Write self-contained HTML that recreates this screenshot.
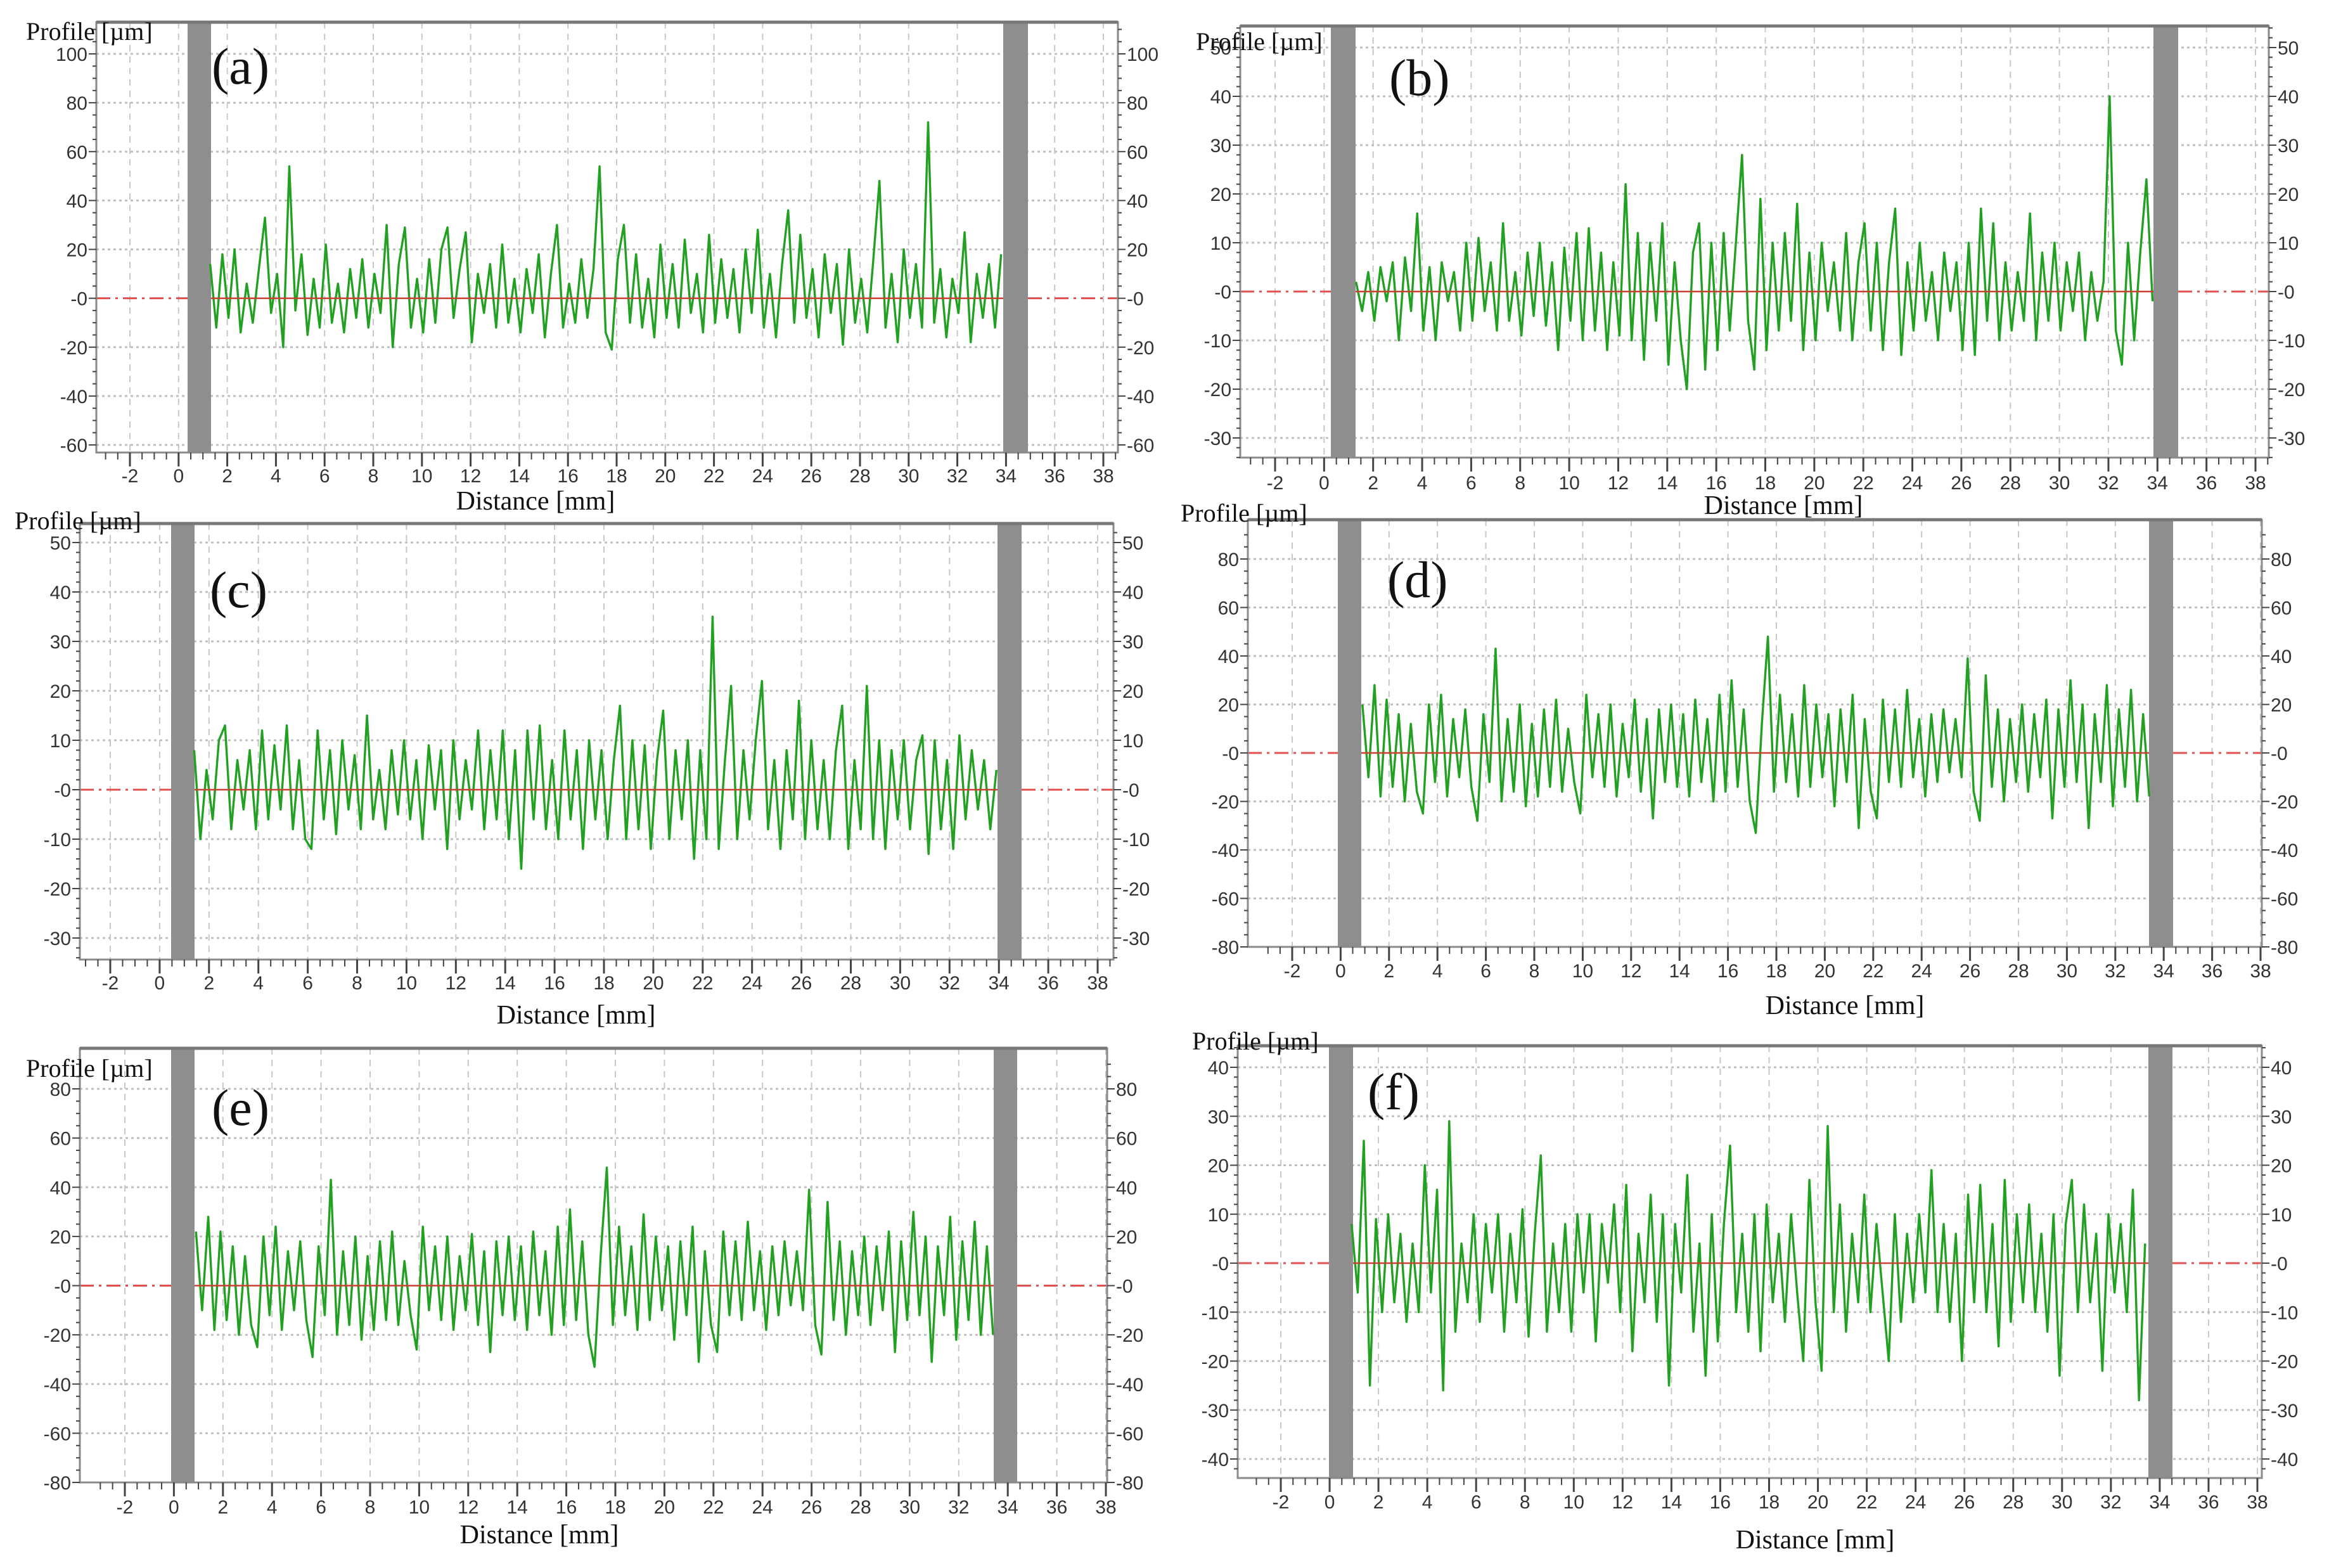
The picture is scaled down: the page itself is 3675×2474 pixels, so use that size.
<!DOCTYPE html>
<html><head><meta charset="utf-8"><style>
html,body{margin:0;padding:0;background:#fff;}
svg{display:block;}
.tick{font-family:"Liberation Sans Narrow","Liberation Sans",sans-serif;font-size:30px;fill:#333;}
.ser{font-family:"Liberation Serif",serif;fill:#111;}
</style></head><body>
<svg id="fig" width="3675" height="2474" viewBox="0 0 3675 2474" xmlns="http://www.w3.org/2000/svg">
<rect width="3675" height="2474" fill="#fff"/>
</svg>
<script>
// ---- data (profile heights in µm, evenly spaced samples between start/end mm) ----
const profileA = [14,-12,18,-8,20,-14,6,-10,12,33,-6,10,-20,54,-5,18,-15,8,-12,22,-10,6,-14,12,-8,16,-12,10,-6,30,-20,14,29,-12,8,-14,16,-10,20,29,-8,12,27,-18,10,-6,14,-12,22,-10,8,-14,12,-6,18,-16,10,30,-12,6,-10,16,-8,12,54,-14,-21,16,30,-10,18,-12,8,-16,22,-8,14,-12,24,-6,10,-14,26,-10,16,-8,12,-14,20,-6,28,-12,10,-16,14,36,-10,26,-8,12,-16,18,-6,14,-19,20,-10,8,-14,16,48,-12,10,-18,20,-8,14,-12,72,-10,12,-16,8,-6,27,-18,10,-8,14,-12,18];
const profileB = [2,-4,4,-6,5,-2,6,-10,7,-4,16,-8,5,-10,6,-2,4,-8,10,-6,11,-4,6,-8,14,-6,4,-9,8,-5,10,-7,6,-12,9,-6,12,-10,13,-8,8,-12,6,-9,22,-10,12,-14,10,-6,14,-15,6,-10,-20,8,14,-16,10,-12,12,-8,10,28,-6,-16,19,-12,10,-8,12,-6,18,-12,8,-10,10,-4,6,-8,12,-10,6,14,-8,10,-12,6,17,-13,6,-8,10,-6,4,-10,8,-4,6,-12,10,-13,17,-6,14,-10,6,-8,4,-6,16,-10,8,-6,10,-8,6,-4,8,-10,4,-6,2,40,-8,-15,10,-10,8,23,-2];
const profileC = [8,-10,4,-6,10,13,-8,6,-4,8,-8,12,-6,9,-4,13,-8,6,-10,-12,12,-6,8,-9,10,-4,7,-8,15,-6,4,-8,8,-5,10,-6,6,-10,9,-4,8,-12,10,-6,6,-4,12,-8,8,-6,12,-10,8,-16,12,-6,13,-8,6,-10,12,-6,8,-12,10,-6,8,-10,6,17,-10,10,-8,9,-12,6,16,-10,8,-6,10,-14,8,-10,35,-12,6,21,-10,8,-6,10,22,-8,6,-12,8,-6,18,-10,10,-8,6,-10,8,17,-12,6,-8,21,-10,10,-12,8,-6,10,-8,6,11,-13,10,-8,6,-12,11,-6,8,-4,6,-8,4];
const profileD = [20,-10,28,-18,22,-14,16,-20,12,-16,-25,20,-12,24,-18,14,-10,18,-14,-28,16,-12,43,-20,14,-16,20,-22,12,-18,18,-14,22,-16,10,-12,-25,24,-10,16,-14,20,-18,12,-10,22,-16,14,-27,18,-12,20,-14,16,-18,22,-12,14,-20,24,-16,30,-14,18,-20,-33,12,48,-16,24,-12,16,-18,28,-14,20,-10,16,-22,18,-12,24,-31,14,-16,-27,22,-12,18,-14,26,-10,14,-18,16,-12,18,-8,14,-10,39,-16,-28,32,-14,18,-20,14,-12,20,-16,16,-10,22,-27,18,-14,30,-12,20,-31,16,-12,28,-22,18,-14,26,-20,16,-18];
const profileE = [22,-10,28,-18,22,-14,16,-20,12,-16,-25,20,-12,24,-18,14,-10,18,-14,-29,16,-12,43,-20,14,-16,20,-22,12,-18,18,-14,22,-16,10,-12,-26,24,-10,16,-14,20,-18,12,-10,21,-16,14,-27,18,-12,20,-14,16,-18,22,-12,14,-20,24,-16,31,-14,18,-20,-33,12,48,-16,24,-12,16,-18,29,-14,20,-10,16,-22,18,-12,24,-31,14,-16,-27,22,-12,18,-14,26,-10,14,-18,16,-12,18,-8,14,-10,39,-16,-28,34,-14,18,-20,14,-12,20,-16,16,-10,22,-27,18,-14,30,-12,20,-31,16,-12,28,-22,18,-14,26,-20,16,-20];
const profileF = [8,-6,25,-25,9,-10,10,-8,6,-12,4,-10,20,-6,15,-26,29,-14,4,-8,10,-12,8,-6,10,-14,6,-8,11,-15,6,22,-14,4,-10,8,-14,10,-6,10,-16,8,-4,12,-10,16,-18,6,-8,14,-12,10,-25,8,-6,18,-14,4,-23,10,-16,8,24,-10,6,-14,10,-18,12,-8,6,-12,10,-6,-20,17,-8,-22,28,-10,12,-14,6,-8,14,-10,8,-6,-20,10,-12,6,-8,10,-6,19,-10,8,-12,6,-20,14,-8,16,-10,8,-17,17,-12,10,-8,12,-10,6,-14,10,-23,8,17,-10,12,-8,6,-22,10,-6,8,-10,15,-28,4];
const xTickLabels = [-2,0,2,4,6,8,10,12,14,16,18,20,22,24,26,28,30,32,34,36,38];
const yTicksA = [-60,-40,-20,0,20,40,60,80,100];
const yTicksB = [-30,-20,-10,0,10,20,30,40,50];
const yTicksD = [-80,-60,-40,-20,0,20,40,60,80];
const yTicksF = [-40,-30,-20,-10,0,10,20,30,40];
const dataRanges = [[1.3,33.8],[1.3,33.8],[1.4,33.9],[0.9,33.4],[0.9,33.4],[0.9,33.4]];

// ---- layout (pixels) ----
const panels = [
 {id:'a',data:profileA,yt:yTicksA,minor:5,L:152,R:1764,T:35,B:714,yv1:100,yp1:85,yv2:-60,yp2:702,xp1:205,xp2:1741,bands:[[296,333],[1583,1622]],px:41,py:63,tly:761,dx:845,dy:804,lx:334,ly:132},
 {id:'b',data:profileB,yt:yTicksB,minor:2,L:1957,R:3580,T:41,B:722,yv1:50,yp1:75,yv2:-30,yp2:691,xp1:2012,xp2:3559,bands:[[2100,2139],[3398,3437]],px:1887,py:79,tly:772,dx:2814,dy:811,lx:2192,ly:150},
 {id:'c',data:profileC,yt:yTicksB,minor:2,L:126,R:1757,T:826,B:1514,yv1:50,yp1:856,yv2:-30,yp2:1480,xp1:174,xp2:1732,bands:[[270,307],[1574,1612]],px:23,py:835,tly:1561,dx:909,dy:1615,lx:331,ly:958},
 {id:'d',data:profileD,yt:yTicksD,minor:5,L:1969,R:3569,T:820,B:1494,yv1:80,yp1:882,yv2:-80,yp2:1494,xp1:2039,xp2:3567,bands:[[2111,2148],[3391,3429]],px:1863,py:823,tly:1542,dx:2911,dy:1600,lx:2189,ly:942},
 {id:'e',data:profileE,yt:yTicksD,minor:5,L:126,R:1747,T:1654,B:2339,yv1:80,yp1:1718,yv2:-80,yp2:2339,xp1:197,xp2:1745,bands:[[270,307],[1568,1605]],px:41,py:1699,tly:2388,dx:851,dy:2435,lx:334,ly:1775},
 {id:'f',data:profileF,yt:yTicksF,minor:2,L:1953,R:3569,T:1650,B:2332,yv1:40,yp1:1684,yv2:-40,yp2:2302,xp1:2021,xp2:3562,bands:[[2097,2135],[3390,3428]],px:1881,py:1656,tly:2380,dx:2864,dy:2443,lx:2158,ly:1750}
];

const NS='http://www.w3.org/2000/svg';
const svg=document.getElementById('fig');
function mk(tag,attrs,parent){const e=document.createElementNS(NS,tag);for(const k in attrs)e.setAttribute(k,attrs[k]);(parent||svg).appendChild(e);return e;}

panels.forEach((p,pi)=>{
  const g=mk('g',{});
  
  
  const xs=v=>p.xp1+(v+2)*(p.xp2-p.xp1)/40;
  const ys=v=>p.yp1+(p.yv1-v)*(p.yp2-p.yp1)/(p.yv1-p.yv2);
  xTickLabels.forEach(t=>{
    const l=mk('line',{x1:xs(t),x2:xs(t),y1:p.T,y2:p.B,stroke:'#c8c8c8','stroke-width':2,'stroke-dasharray':'10,8'},g);
    
    
  });
  p.yt.forEach(t=>{
    if(t===0)return;
    const l=mk('line',{x1:p.L,x2:p.R,y1:ys(t),y2:ys(t),stroke:'#c0c0c0','stroke-width':3,'stroke-dasharray':'4,5'},g);
    
    
  });
  p.bands.forEach((b,bi)=>{
    const r=mk('rect',{x:b[0],y:p.T,width:b[1]-b[0],height:p.B-p.T,fill:'#8e8e8e'},g);
    
    
  });
  const z=ys(0);
  [[p.L,p.bands[0][0]],[p.bands[1][1],p.R]].forEach(s=>{
    const l=mk('line',{x1:s[0],x2:s[1],y1:z,y2:z,stroke:'#e05050','stroke-width':3,'stroke-dasharray':'22,8,4,8'},g);
    
    
  });
  const d=p.data, rng=dataRanges[pi];
  let path='';
  d.forEach((v,i)=>{const xm=rng[0]+(rng[1]-rng[0])*i/(d.length-1);path+=(i?'L':'M')+xs(xm).toFixed(1)+','+ys(v).toFixed(1);});
  const pl=mk('path',{d:path,fill:'none',stroke:'#22a022','stroke-width':3.4,'stroke-linejoin':'round'},g);
  
  
  const zl=mk('line',{x1:p.bands[0][1],x2:p.bands[1][0],y1:z,y2:z,stroke:'#c84030','stroke-width':2.5},g);
  
  
  const fr=mk('rect',{x:p.L,y:p.T,width:p.R-p.L,height:p.B-p.T,fill:'none',stroke:'#8a8a8a','stroke-width':3},g);
  
  
  mk('line',{x1:p.L,x2:p.R,y1:p.T,y2:p.T,stroke:'#777','stroke-width':5},g);
  for(let m=-3;m<=39;m+=0.5){
    const x=xs(m); if(x<p.L||x>p.R)continue;
    const major=Number.isInteger(m/2);
    mk('line',{x1:x,x2:x,y1:p.B,y2:p.B+(major?22:11),stroke:'#444','stroke-width':major?3:2},g);
  }
  xTickLabels.forEach(t=>{
    const tx=mk('text',{x:xs(t),y:p.tly,'text-anchor':'middle',class:'tick'},g);
    tx.textContent=String(t);
    
    
  });
  const ymin=p.yt[0]-p.minor*2, ymax=p.yt[p.yt.length-1]+p.minor*2;
  for(let v=ymin;v<=ymax;v+=p.minor){
    const y=ys(v); if(y<p.T||y>p.B)continue;
    const major=p.yt.includes(v);
    mk('line',{x1:p.L-(major?12:6),x2:p.L,y1:y,y2:y,stroke:'#444','stroke-width':2},g);
    mk('line',{x1:p.R,x2:p.R+(major?12:6),y1:y,y2:y,stroke:'#444','stroke-width':2},g);
  }
  p.yt.forEach(t=>{
    const s=t===0?'-0':String(t);
    const a=mk('text',{x:p.L-14,y:ys(t)+11,'text-anchor':'end',class:'tick'},g);
    a.textContent=s;
    
    
    const b=mk('text',{x:p.R+14,y:ys(t)+11,'text-anchor':'start',class:'tick'},g);
    b.textContent=s;
    
    
  });
  const yt=mk('text',{x:p.px,y:p.py,class:'ser','font-size':40},g);
  yt.textContent='Profile [µm]';
  
  
  const xt=mk('text',{x:p.dx,y:p.dy,class:'ser','font-size':42,'text-anchor':'middle'},g);
  xt.textContent='Distance  [mm]';
  xt.setAttribute('xml:space','preserve');
  
  
  const lt=mk('text',{x:p.lx,y:p.ly,class:'ser','font-size':82},g);
  lt.textContent='('+p.id+')';
  
  
});
</script>
</body></html>
